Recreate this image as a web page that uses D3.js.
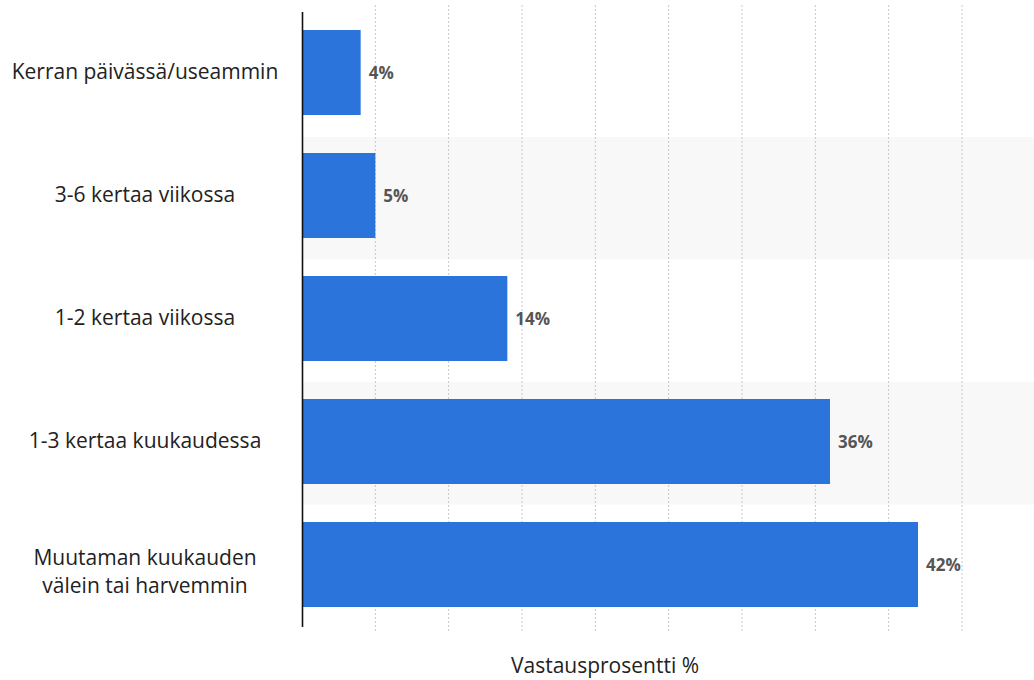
<!DOCTYPE html>
<html><head><meta charset="utf-8">
<script src="https://cdn.jsdelivr.net/npm/d3@7"></script>
<style>body{margin:0;background:#fff}svg{display:block}</style>
</head><body>
<svg id="c" width="1034" height="680"></svg>
<script>
const categories = [
  ["Kerran päivässä/useammin"],
  ["3-6 kertaa viikossa"],
  ["1-2 kertaa viikossa"],
  ["1-3 kertaa kuukaudessa"],
  ["Muutaman kuukauden", "välein tai harvemmin"]
];
const values = [4, 5, 14, 36, 42];
const valueLabels = ["4%", "5%", "14%", "36%", "42%"];
const gridTicks = [5, 10, 15, 20, 25, 30, 35, 40, 45];
const axisTitle = "Vastausprosentti %";

const svg = d3.select("#c");
const plotLeft = 302;
const x = d3.scaleLinear().domain([0, 45]).range([plotLeft, 962]);
const y = d3.scaleBand().domain(d3.range(values.length)).range([30, 607]).paddingInner(0.309).paddingOuter(0);
const band = d3.scaleBand().domain(d3.range(values.length)).range([14.5, 627]);

// alternating row background
svg.selectAll("rect.bg").data(values).join("rect")
  .attr("class", "bg")
  .attr("x", plotLeft).attr("width", 1034 - plotLeft)
  .attr("y", (d, i) => band(i)).attr("height", band.bandwidth())
  .attr("fill", (d, i) => i % 2 ? "#f8f8f8" : "none");

// gridlines
svg.selectAll("line.grid").data(gridTicks).join("line")
  .attr("class", "grid")
  .attr("x1", d => x(d)).attr("x2", d => x(d))
  .attr("y1", 5).attr("y2", 632)
  .attr("stroke", "#c8c8c8").attr("stroke-width", 1)
  .attr("stroke-dasharray", "2,2");

// bars
svg.selectAll("rect.bar").data(values).join("rect")
  .attr("class", "bar")
  .attr("x", x(0)).attr("width", d => x(d) - x(0))
  .attr("y", (d, i) => y(i)).attr("height", y.bandwidth())
  .attr("fill", "#2a74dc");

// axis line
svg.append("line").attr("x1", plotLeft + 0.5).attr("x2", plotLeft + 0.5)
  .attr("y1", 12).attr("y2", 627).attr("stroke", "#111").attr("stroke-width", 1.6);

// value labels
svg.selectAll("text.val").data(values).join("text")
  .attr("class", "val")
  .attr("x", d => x(d) + 8)
  .attr("y", (d, i) => y(i) + y.bandwidth() / 2)
  .attr("dy", "0.4em")
  .attr("font-family", "Open Sans, sans-serif").attr("font-weight", "bold")
  .attr("font-size", 17).attr("fill", "#555")
  .text((d, i) => valueLabels[i]);

// category labels
const cat = svg.selectAll("text.cat").data(categories).join("text")
  .attr("class", "cat")
  .attr("font-family", "Open Sans, sans-serif")
  .attr("font-size", 21).attr("fill", "#222")
  .attr("text-anchor", "middle");
cat.each(function(lines, i) {
  const cy = y(i) + y.bandwidth() / 2 + (lines.length > 1 ? 8 : 0);
  const lh = 28;
  d3.select(this).selectAll("tspan").data(lines).join("tspan")
    .attr("x", 145)
    .attr("y", (l, j) => cy + (j - (lines.length - 1) / 2) * lh)
    .attr("dy", "0.33em")
    .text(l => l);
});

svg.append("text").attr("x", 605).attr("y", 673)
  .attr("text-anchor", "middle")
  .attr("font-family", "Open Sans, sans-serif").attr("font-size", 21).attr("fill", "#222")
  .text(axisTitle);
</script>
</body></html>
